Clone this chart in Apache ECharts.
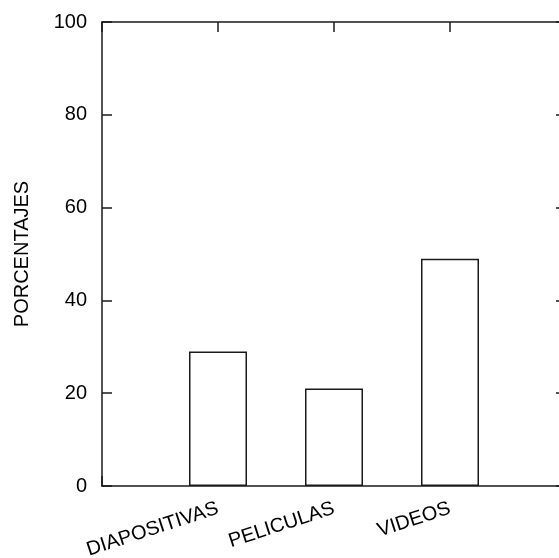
<!DOCTYPE html>
<html>
<head>
<meta charset="utf-8">
<script src="https://cdn.jsdelivr.net/npm/echarts@6/dist/echarts.min.js"></script>
<style>
html,body{margin:0;padding:0;background:#fff;}
#chart{width:559px;height:558px;}
</style>
</head>
<body>
<div id="chart"></div>
<script>
var categories = ['DIAPOSITIVAS', 'PELICULAS', 'VIDEOS'];
var values = [29, 21, 49];
var yTicks = [0, 20, 40, 60, 80, 100];
var yName = 'PORCENTAJES';

var chart = echarts.init(document.getElementById('chart'), null, {renderer: 'canvas'});
var lineColor = '#1a1a1a';
var font = 'Liberation Sans';
var data = values.map(function (v, i) { return [i + 1, v]; });

function axisCommon() {
  return {
    axisLine: {show: true, onZero: false, lineStyle: {color: lineColor, width: 1.5}},
    axisTick: {show: true, inside: true, length: 10, lineStyle: {color: lineColor, width: 1.5}},
    splitLine: {show: false}
  };
}

var xb = axisCommon();
xb.type = 'value'; xb.min = 0; xb.max = categories.length + 1; xb.interval = 1; xb.position = 'bottom';
xb.axisLabel = {
  rotate: 18, margin: 22, color: '#000', fontFamily: font, fontSize: 20,
  formatter: function (v) { return categories[v - 1] || ''; }
};
var xt = axisCommon();
xt.type = 'value'; xt.min = 0; xt.max = categories.length + 1; xt.interval = 1; xt.position = 'top';
xt.axisLabel = {show: false};

var yl = axisCommon();
yl.type = 'value'; yl.min = yTicks[0]; yl.max = yTicks[yTicks.length - 1]; yl.interval = 20; yl.position = 'left';
yl.name = yName; yl.nameLocation = 'middle'; yl.nameGap = 70; yl.nameRotate = 90;
yl.nameTextStyle = {color: '#000', fontFamily: font, fontSize: 20};
yl.axisLabel = {margin: 15, color: '#000', fontFamily: font, fontSize: 20};
var yr = axisCommon();
yr.type = 'value'; yr.min = yTicks[0]; yr.max = yTicks[yTicks.length - 1]; yr.interval = 20; yr.position = 'right';
yr.axisLabel = {show: false};

var option = {
  backgroundColor: '#fff',
  animation: false,
  grid: {left: 102, top: 22, width: 464, height: 464, containLabel: false, outerBoundsMode: 'none'},
  xAxis: [xb, xt],
  yAxis: [yl, yr],
  series: [{
    type: 'bar',
    xAxisIndex: 0, yAxisIndex: 0,
    data: data,
    barWidth: 58,
    itemStyle: {color: '#fff', borderColor: lineColor, borderWidth: 1.5}
  }]
};
chart.setOption(option);
</script>
</body>
</html>
